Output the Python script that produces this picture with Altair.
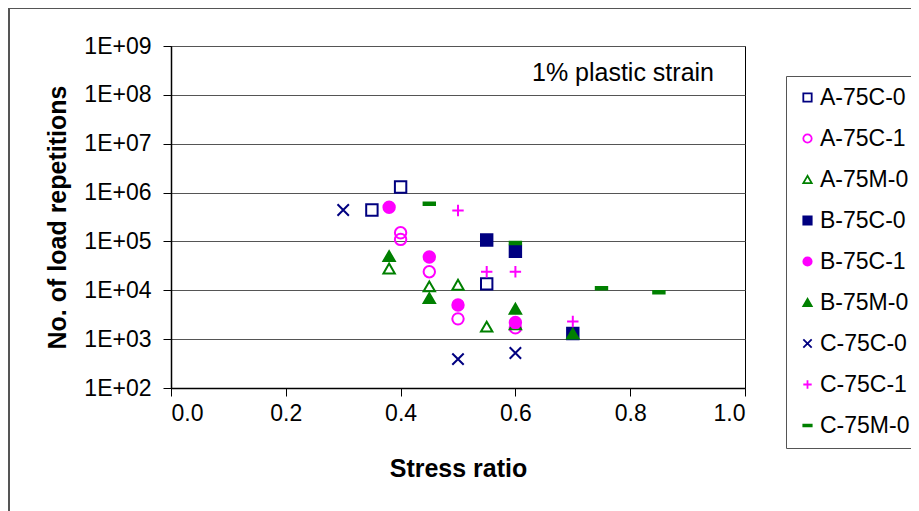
import altair as alt
import pandas as pd

# ---- data ----
series_names = ["A-75C-0", "A-75C-1", "A-75M-0", "B-75C-0", "B-75C-1",
                "B-75M-0", "C-75C-0", "C-75C-1", "C-75M-0"]

a75c0_x = [0.35, 0.40, 0.55]
a75c0_y = [4.4e5, 1.3e6, 1.35e4]
a75c1_x = [0.40, 0.40, 0.45, 0.50, 0.60]
a75c1_y = [1.5e5, 1.1e5, 2.4e4, 2.6e3, 1.7e3]
a75m0_x = [0.38, 0.45, 0.50, 0.55, 0.60]
a75m0_y = [2.8e4, 1.2e4, 1.3e4, 1.8e3, 2.0e3]
b75c0_x = [0.55, 0.60, 0.70]
b75c0_y = [1.07e5, 6.3e4, 1.3e3]
b75c1_x = [0.38, 0.45, 0.50, 0.60]
b75c1_y = [5.0e5, 4.8e4, 5.0e3, 2.2e3]
b75m0_x = [0.38, 0.45, 0.60, 0.70]
b75m0_y = [5.0e4, 6.9e3, 4.2e3, 1.3e3]
c75c0_x = [0.30, 0.50, 0.60]
c75c0_y = [4.4e5, 3.9e2, 5.2e2]
c75c1_x = [0.50, 0.55, 0.60, 0.70]
c75c1_y = [4.3e5, 2.4e4, 2.4e4, 2.3e3]
c75m0_x = [0.45, 0.60, 0.75, 0.85]
c75m0_y = [5.9e5, 9.3e4, 1.1e4, 9.1e3]

x_ticks = [0.0, 0.2, 0.4, 0.6, 0.8, 1.0]
y_ticks = [1e2, 1e3, 1e4, 1e5, 1e6, 1e7, 1e8, 1e9]
annotation = "1% plastic strain"

all_x = [a75c0_x, a75c1_x, a75m0_x, b75c0_x, b75c1_x, b75m0_x, c75c0_x, c75c1_x, c75m0_x]
all_y = [a75c0_y, a75c1_y, a75m0_y, b75c0_y, b75c1_y, b75m0_y, c75c0_y, c75c1_y, c75m0_y]

rows = []
for name, xs, ys in zip(series_names, all_x, all_y):
    for xv, yv in zip(xs, ys):
        rows.append({"series": name, "ratio": xv, "reps": yv})
df = pd.DataFrame(rows)

NAVY = "#000080"
MAG = "#FF00FF"
GRN = "#008000"
stroke_colors = [NAVY, MAG, GRN, NAVY, MAG, GRN, NAVY, MAG, GRN]
fill_colors = ["transparent", "transparent", "transparent", NAVY, MAG, GRN,
               "transparent", "transparent", GRN]
shapes = ["square", "circle", "triangle-up", "square", "circle", "triangle-up",
          "M-1,-1L1,1M-1,1L1,-1", "M-1,0L1,0M0,-1L0,1",
          "M-1,-0.22L1,-0.22L1,0.22L-1,0.22Z"]

legend = alt.Legend(title=None, orient="none", legendX=615, legendY=30,
                    labelFont="Liberation Sans", labelFontSize=23, labelColor="black",
                    symbolSize=70, symbolStrokeWidth=1.8, rowPadding=17,
                    padding=10, symbolOffset=0, labelOffset=1,
                    strokeColor="#555555", fillColor="white")

points = alt.Chart(df).mark_point(size=130, strokeWidth=2, opacity=1).encode(
    x=alt.X("ratio:Q", scale=alt.Scale(domain=[0, 1], nice=False),
            axis=alt.Axis(title="Stress ratio", values=x_ticks, format=".1f",
                          grid=False, tickSize=8, labelPadding=6, titlePadding=31)),
    y=alt.Y("reps:Q", scale=alt.Scale(type="log", domain=[1e2, 1e9], nice=False),
            axis=alt.Axis(title="No. of load repetitions", values=y_ticks,
                          labelExpr="'1E+0' + round(log(datum.value)/LN10)",
                          grid=True, tickSize=8, labelPadding=12, titlePadding=13)),
    shape=alt.Shape("series:N", scale=alt.Scale(domain=series_names, range=shapes), legend=legend),
    stroke=alt.Stroke("series:N", scale=alt.Scale(domain=series_names, range=stroke_colors), legend=legend),
    fill=alt.Fill("series:N", scale=alt.Scale(domain=series_names, range=fill_colors), legend=legend),
)

border = alt.Chart(alt.Data(values=[{}])).mark_rect(
    fill="transparent", stroke="#555555", strokeWidth=2
).encode(x=alt.value(-162), y=alt.value(-38), x2=alt.value(820), y2=alt.value(520))

note = alt.Chart(alt.Data(values=[{"t": annotation}])).mark_text(
    font="Liberation Sans", fontSize=25, color="black", align="center", baseline="middle"
).encode(x=alt.value(452), y=alt.value(27), text="t:N")

chart = alt.layer(border, points, note).properties(
    width=574, height=342,
    autosize=alt.AutoSizeParams(type="none"),
    padding={"left": 163, "top": 38, "right": 166, "bottom": 125},
).configure_view(stroke="black", strokeWidth=1).configure_axis(
    labelFont="Liberation Sans", labelFontSize=23, labelColor="black",
    titleFont="Liberation Sans", titleFontSize=25, titleFontWeight="bold", titleColor="black",
    domainColor="black", domainWidth=1.5, tickColor="black", tickWidth=1,
    gridColor="#555555", gridWidth=1
)

chart.save("out.html", embed_options={"renderer": "svg", "actions": False})
